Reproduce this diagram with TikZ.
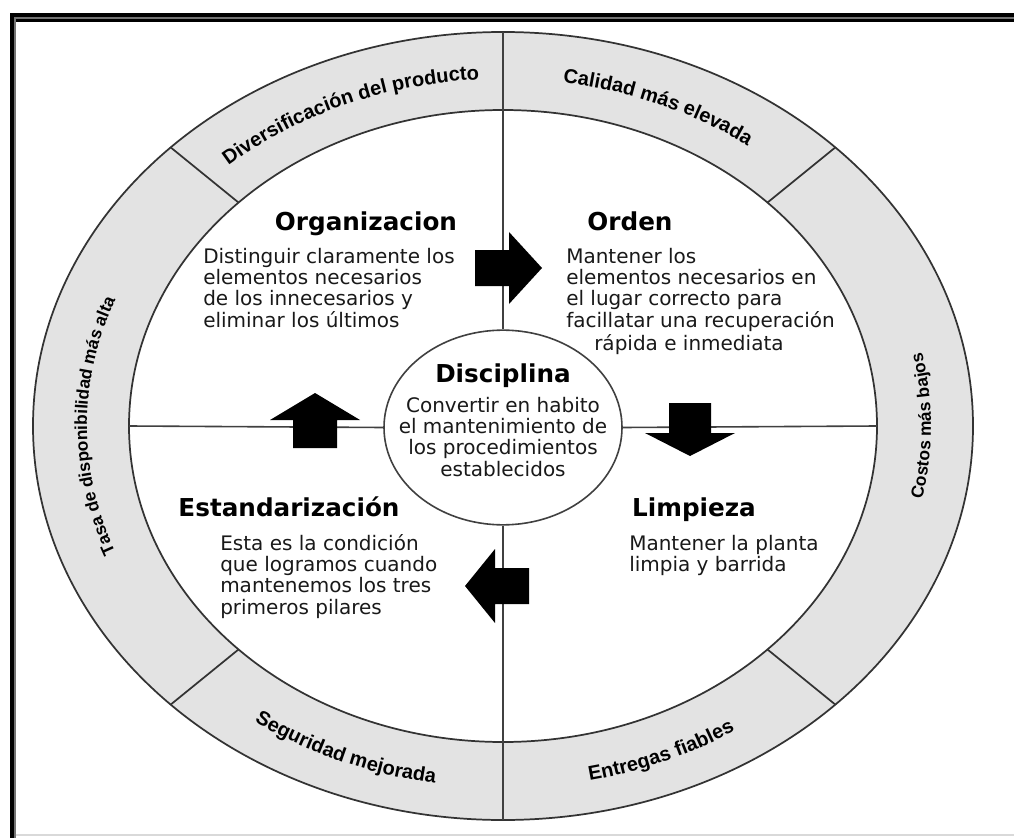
\documentclass[tikz,border=0pt]{standalone}
\usepackage{fontspec}
\setmainfont{DejaVu Sans}
\newfontfamily\ringfamily{Liberation Sans}
\usetikzlibrary{shapes.geometric,decorations.text,calc}

% left- or centre-aligned block of lines whose baseline is the first line
\newcommand{\txtblock}[2]{\begin{tabular}[t]{@{}#1@{}}#2\end{tabular}}

\begin{document}
\begin{tikzpicture}[x=0.75pt,y=0.75pt,
  ringline/.style={draw=black!80, line width=1.3pt},
  divline/.style={draw=black!75, line width=1.2pt},
  blockarrow/.style={fill=black},
  title/.style={font=\bfseries\fontsize{18.5}{20}\selectfont, inner sep=0pt, anchor=base},
  body/.style={font=\fontsize{15}{15.5}\selectfont, inner sep=0pt, text=black!90},
  ringlabel/.style={decorate, decoration={text along path, text align=center, text={#1}}},
]
\useasboundingbox (0,0) rectangle (1014,-838);
\fill[white] (0,0) rectangle (1014,-838);

% frame
\fill[black] (10,-13) rectangle (1014,-22);
\fill[black!55] (10,-17.2) rectangle (1014,-18.6);
\fill[black] (9.5,-13) rectangle (13.5,-838);
\fill[black!55] (13.5,-17) rectangle (15.5,-838);
\draw[black!15, line width=1.5pt] (15.5,-835) -- (1014,-835);

% ring
\coordinate (C) at (503,-426);
\draw[ringline, fill=black!11] (C) ellipse [x radius=470, y radius=394];
\draw[ringline, fill=white] (C) ellipse [x radius=374, y radius=316];
\foreach \a in {45,135,225,315}
  \draw[ringline] ($(C)+(\a:374 and 316)$) -- ($(C)+(\a:470 and 394)$);

\coordinate (otop) at ($(C)+(0,394)$);
\coordinate (obot) at ($(C)+(0,-394)$);
\coordinate (ileft) at ($(C)+(-374,0)$);
\coordinate (iright) at ($(C)+(374,0)$);

% centre
\node[ellipse, draw=black!75, line width=1.2pt, fill=white, minimum width=178.5pt, minimum height=146pt, inner sep=0pt] (disc) at (503,-427.5) {};

\draw[divline] (otop) -- (disc.north);
\draw[divline] (disc.south) -- (obot);
\draw[divline] (ileft) -- (disc.west);
\draw[divline] (disc.east) -- (iright);

% ring labels
\path[ringlabel={|\ringfamily\bfseries\fontsize{15}{15}\selectfont|Diversificación del producto}]
  ($(C)+(135:415 and 347)$) arc[start angle=135, end angle=90, x radius=415, y radius=347];
\path[ringlabel={|\ringfamily\bfseries\fontsize{15}{15}\selectfont|Calidad más elevada}]
  ($(C)+(90:415 and 347)$) arc[start angle=90, end angle=45, x radius=415, y radius=347];
\path[ringlabel={|\ringfamily\bfseries\fontsize{13}{13}\selectfont|Costos más bajos}]
  ($(C)+(-45:428 and 360)$) arc[start angle=-45, end angle=45, x radius=428, y radius=360];
\path[ringlabel={|\ringfamily\bfseries\fontsize{15}{15}\selectfont|Entregas fiables}]
  ($(C)+(270:430 and 362)$) arc[start angle=270, end angle=315, x radius=430, y radius=362];
\path[ringlabel={|\ringfamily\bfseries\fontsize{15}{15}\selectfont|Seguridad mejorada}]
  ($(C)+(225:430 and 362)$) arc[start angle=225, end angle=270, x radius=430, y radius=362];
\path[ringlabel={|\ringfamily\bfseries\fontsize{13}{13}\selectfont|Tasa de disponibilidad más alta}]
  ($(C)+(225:416 and 347)$) arc[start angle=225, end angle=135, x radius=416, y radius=347];

% block arrows
\fill[blockarrow] (475,-250) -- (509,-250) -- (509,-232) -- (542,-268) -- (509,-304) -- (509,-286) -- (475,-286) -- cycle;
\fill[blockarrow] (669,-403) -- (711,-403) -- (711,-433) -- (735,-433) -- (690,-456) -- (645,-433) -- (669,-433) -- cycle;
\fill[blockarrow] (529,-568) -- (495,-568) -- (495,-549) -- (465,-586) -- (495,-623) -- (495,-604) -- (529,-604) -- cycle;
\fill[blockarrow] (293,-448) -- (293,-420) -- (270,-420) -- (315,-393) -- (360,-420) -- (337,-420) -- (337,-448) -- cycle;

% quadrant texts
\node[title] (orgt) at (366,-230) {Organizacion};
\node[body, anchor=base west] (orgb) at (203,-263) {\txtblock{l}{Distinguir claramente los\\elementos necesarios\\de los innecesarios y\\eliminar los últimos}};

\node[title] (ordt) at (630,-230) {Orden};
\node[body, anchor=base west] (ordb) at (566,-263) {\txtblock{l}{Mantener los\\elementos necesarios en\\el lugar correcto para\\facillatar una recuperación\\\hspace*{21pt}rápida e inmediata}};

\node[title] (dist) at (503,-382) {Disciplina};
\node[body, anchor=base] (disb) at (503,-412) {\txtblock{c}{Convertir en habito\\el mantenimiento de\\los procedimientos\\establecidos}};

\node[title] (estt) at (289,-516) {Estandarización};
\node[body, anchor=base west] (estb) at (220,-550) {\txtblock{l}{Esta es la condición\\que logramos cuando\\mantenemos los tres\\primeros pilares}};

\node[title] (limt) at (694,-516) {Limpieza};
\node[body, anchor=base west] (limb) at (629,-550) {\txtblock{l}{Mantener la planta\\limpia y barrida}};
\end{tikzpicture}
\end{document}
